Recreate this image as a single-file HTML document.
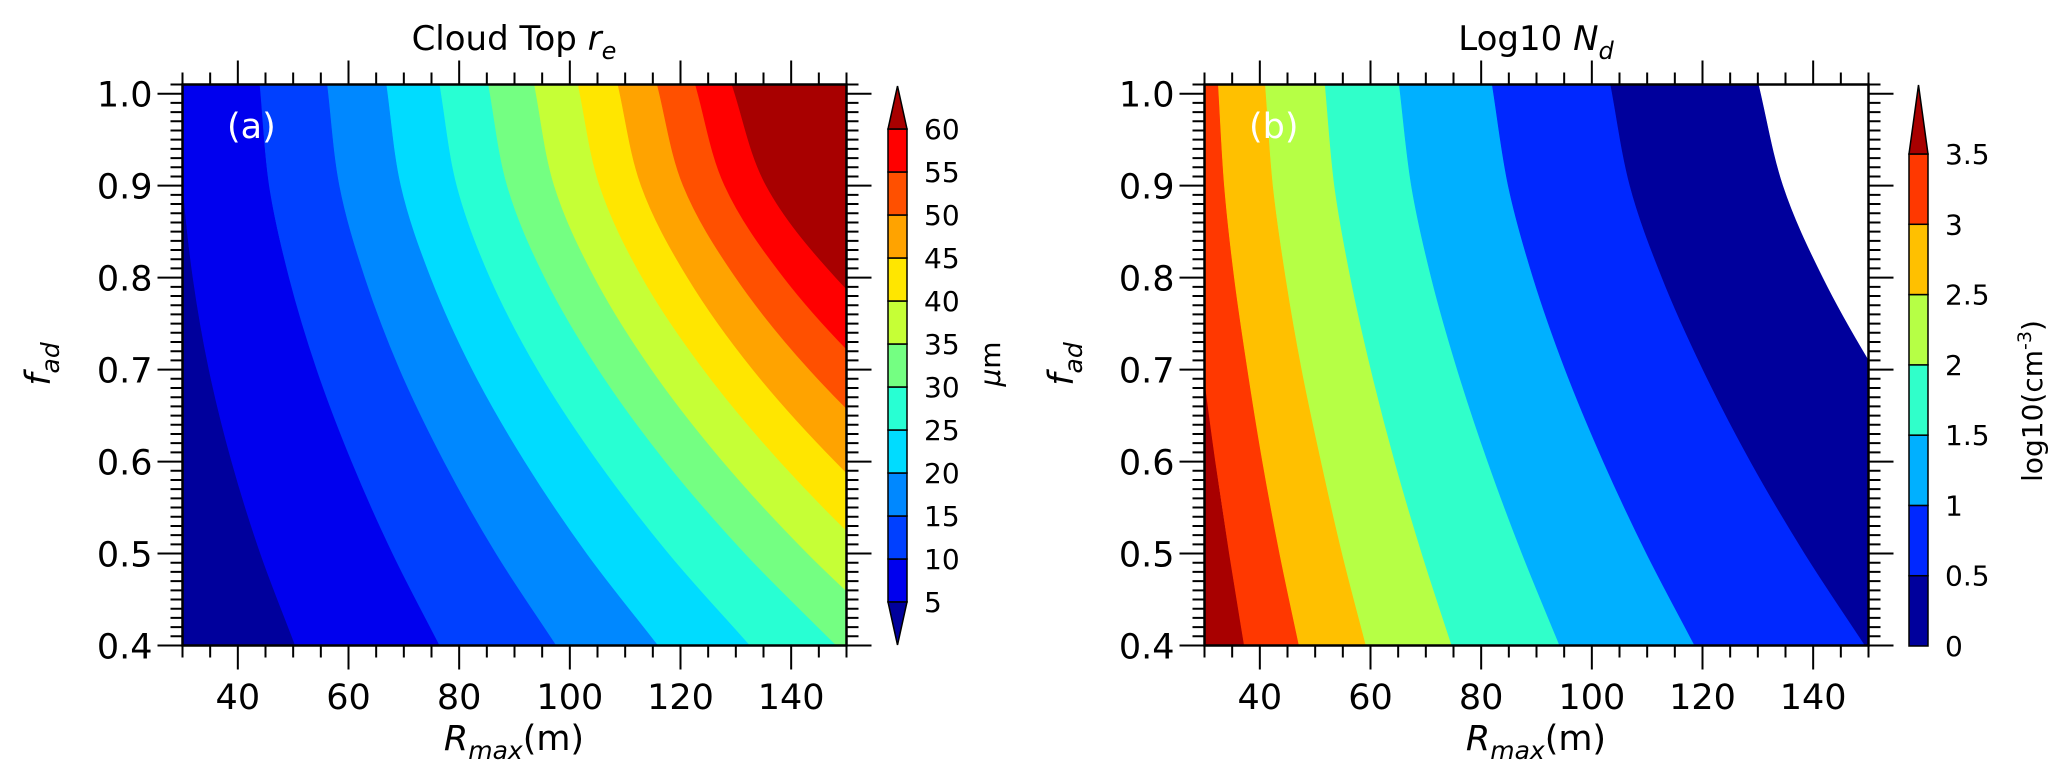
<!DOCTYPE html>
<html><head><meta charset="utf-8"><style>
html,body{margin:0;padding:0;background:#fff;}
svg{display:block;font-family:"DejaVu Sans","Liberation Sans",sans-serif;}
</style></head><body>
<svg id="fig" width="2067" height="777" viewBox="0 0 2067 777" xmlns="http://www.w3.org/2000/svg">
<defs>
<clipPath id="clipA"><rect x="182.5" y="84.5" width="664" height="561"/></clipPath>
<clipPath id="clipB"><rect x="1204.5" y="84.5" width="664" height="561"/></clipPath>
</defs>
<g id="panelA"></g>
<g id="panelB"></g>
<g id="cbarA"></g>
<g id="cbarB"></g>
<text x="514" y="50" font-size="34" text-anchor="middle">Cloud Top <tspan font-style="italic">r</tspan><tspan font-style="italic" font-size="24" dy="9">e</tspan></text>
<text x="1536" y="50" font-size="34" text-anchor="middle">Log10 <tspan font-style="italic">N</tspan><tspan font-style="italic" font-size="24" dy="9">d</tspan></text>
<text x="227" y="138" font-size="35" fill="#fff">(a)</text>
<text x="1249" y="138" font-size="35" fill="#fff">(b)</text>
<text x="514" y="750" font-size="35" text-anchor="middle"><tspan font-style="italic">R</tspan><tspan font-style="italic" font-size="25" dy="9">max</tspan><tspan dy="-9">(m)</tspan></text>
<text x="1536" y="750" font-size="35" text-anchor="middle"><tspan font-style="italic">R</tspan><tspan font-style="italic" font-size="25" dy="9">max</tspan><tspan dy="-9">(m)</tspan></text>
<text transform="translate(50,364) rotate(-90)" font-size="35" text-anchor="middle"><tspan font-style="italic">f</tspan><tspan font-style="italic" font-size="25" dy="9">ad</tspan></text>
<text transform="translate(1073,364) rotate(-90)" font-size="35" text-anchor="middle"><tspan font-style="italic">f</tspan><tspan font-style="italic" font-size="25" dy="9">ad</tspan></text>
<text transform="translate(1000,364) rotate(-90)" font-size="28" text-anchor="middle"><tspan font-style="italic">μ</tspan>m</text>
<text transform="translate(2042,401) rotate(-90)" font-size="28" text-anchor="middle">log10(cm<tspan font-size="19" dy="-11">-3</tspan><tspan dy="11">)</tspan></text>
</svg>
<script>
// ---- data: fad sample levels and contour boundary positions (R in m) ----
const fadLevels = [1.01, 0.9, 0.8, 0.7, 0.6, 0.5, 0.4];
const reLevels = [5,10,15,20,25,30,35,40,45,50,55,60];
const reB1 = [29.2,30.1,31.9,34.8,38.9,44.1,50.4];
const reB2 = [44.0,45.7,49.3,54.3,60.6,68.0,76.5];
const reB3 = [56.2,58.4,63.0,69.3,77.3,86.7,97.6];
const reB4 = [66.9,69.5,74.9,82.4,91.9,103.1,116.0];
const reB5 = [76.5,79.6,85.6,94.2,105.1,117.9,132.6];
const reB6 = [85.3,88.7,95.5,105.2,117.3,131.7,148.2];
const reB7 = [93.6,97.2,104.5,114.8,127.7,143.0,160.6];
const reB8 = [101.5,105.4,113.1,124.2,138.0,154.3,173.1];
const reB9 = [108.7,112.9,121.3,133.1,148.0,165.6,185.8];
const reB10 = [115.8,120.5,130.0,143.3,160.1,180.0,202.8];
const reB11 = [122.7,128.0,138.7,153.7,172.6,195.1,220.8];
const reB12 = [129.3,135.5,148.1,165.8,188.1,214.5,244.8];
const reColors = ['#00009c','#0000ee','#0040ff','#0088ff','#00dcff','#28ffd3','#74ff82','#c6ff36','#ffe600','#ffa300','#ff5000','#ff0000','#a80000'];

const ndLevels = [0,0.5,1,1.5,2,2.5,3,3.5];
const ndB1 = [25.6,26.5,28.0,29.8,32.0,34.5,37.2];
const ndB2 = [32.5,33.6,35.4,37.8,40.5,43.6,47.1];
const ndB3 = [41.0,42.4,44.7,47.6,51.1,54.9,59.2];
const ndB4 = [51.8,53.5,56.4,60.1,64.4,69.3,74.7];
const ndB5 = [65.2,67.4,71.0,75.7,81.2,87.4,94.2];
const ndB6 = [82.0,84.9,89.4,95.2,102.1,109.9,118.6];
const ndB7 = [103.4,106.9,112.7,120.1,128.7,138.5,149.4];
const ndB8 = [130.2,134.6,141.8,151.1,162.0,174.4,188.0];
const ndColors = ['#a80000','#ff3800','#ffc000','#b6ff45','#30ffca','#00b0ff','#0028ff','#00009c','#ffffff'];

const xTicks = [40,60,80,100,120,140];
const yTicks = [0.4,0.5,0.6,0.7,0.8,0.9,1.0];
const yTickLabels = ['0.4','0.5','0.6','0.7','0.8','0.9','1.0'];
const reTickLabels = ['5','10','15','20','25','30','35','40','45','50','55','60'];
const ndTickLabels = ['0','0.5','1','1.5','2','2.5','3','3.5'];

const NS = 'http://www.w3.org/2000/svg';
function mk(tag, attrs, parent){const e=document.createElementNS(NS,tag);for(const k in attrs)e.setAttribute(k,attrs[k]);parent.appendChild(e);return e;}

const PT = 84.5, PB = 645.5, PW = 664;
function yScale(f){return PB - (f-0.4)/(1.01-0.4)*(PB-PT);}
function makeX(left){return r => left + (r-30)/120*PW;}

function smoothPath(pts){
  let d='';
  for(let i=0;i<pts.length-1;i++){
    const p0=i>0?pts[i-1]:[2*pts[0][0]-pts[1][0],2*pts[0][1]-pts[1][1]];
    const p1=pts[i],p2=pts[i+1];
    const p3=i+2<pts.length?pts[i+2]:[2*p2[0]-p1[0],2*p2[1]-p1[1]];
    const c1=[p1[0]+(p2[0]-p0[0])/6,p1[1]+(p2[1]-p0[1])/6];
    const c2=[p2[0]-(p3[0]-p1[0])/6,p2[1]-(p3[1]-p1[1])/6];
    d+=` C${c1[0].toFixed(2)},${c1[1].toFixed(2)} ${c2[0].toFixed(2)},${c2[1].toFixed(2)} ${p2[0].toFixed(2)},${p2[1].toFixed(2)}`;
  }
  return d;
}

function drawPanel(gid, left, clip, bounds, colors, names){
  const g=document.getElementById(gid);
  const xs=makeX(left);
  const cg=mk('g',{'clip-path':'url(#'+clip+')'},g);
  
  
  for(let i=0;i<colors.length;i++){
    const lb = i===0 ? null : bounds[i-1];
    const rb = i===bounds.length ? null : bounds[i];
    let d='';
    if(lb){
      const pts=lb.map((r,k)=>[xs(r),yScale(fadLevels[k])]);
      d='M'+pts[0][0]+','+pts[0][1]+smoothPath(pts);
    } else {
      d=`M${left-50},${PT} L${left-50},${PB}`;
    }
    if(rb){
      const pts=rb.map((r,k)=>[xs(r),yScale(fadLevels[k])]).reverse();
      d+=' L'+pts[0][0]+','+pts[0][1]+smoothPath(pts);
    } else {
      d+=` L${left+PW+50},${PB} L${left+PW+50},${PT}`;
    }
    d+=' Z';
    const p=mk('path',{d:d,fill:colors[i],stroke:colors[i],'stroke-width':'0.6'},cg);
    
    
  }
  const fr=mk('rect',{x:left,y:PT,width:PW,height:PB-PT,fill:'none',stroke:'#000','stroke-width':'2.5'},g);
  
  
  let td='';
  for(let r=30;r<=150;r+=5){
    const x=xs(r), major=xTicks.includes(r), L=major?24:12;
    td+=`M${x},${PB} v${L} M${x},${PT} v${-L} `;
  }
  for(let k=0;k<=61;k++){
    const f=0.4+k*0.01, y=yScale(f), major=(k%10===0), L=major?25:12;
    td+=`M${left},${y} h${-L} M${left+PW},${y} h${L} `;
  }
  const tk=mk('path',{d:td,stroke:'#000','stroke-width':'2',fill:'none'},g);
  
  
  xTicks.forEach(v=>{
    const t=mk('text',{x:xs(v),y:709,'font-size':'35','text-anchor':'middle'},g);
    t.textContent=String(v);
    
    
  });
  yTicks.forEach((v,i)=>{
    const t=mk('text',{x:left-30,y:yScale(v)+13,'font-size':'35','text-anchor':'end'},g);
    t.textContent=yTickLabels[i];
    
    
  });
}

drawPanel('panelA',182.5,'clipA',[reB1,reB2,reB3,reB4,reB5,reB6,reB7,reB8,reB9,reB10,reB11,reB12],reColors,'re');
drawPanel('panelB',1204.5,'clipB',[ndB1,ndB2,ndB3,ndB4,ndB5,ndB6,ndB7,ndB8],ndColors,'nd');

function drawCbar(gid, x0, w, levels, labels, colors, yLo, yHi, extLow, extHigh, tipLow, tipHigh){
  const g=document.getElementById(gid);
  const n=levels.length-1;
  const cy=v=>yLo-(v-levels[0])/(levels[n]-levels[0])*(yLo-yHi);
  for(let i=0;i<n;i++){
    const r=mk('rect',{x:x0,y:cy(levels[i+1]),width:w,height:cy(levels[i])-cy(levels[i+1]),fill:colors[i],stroke:'#000','stroke-width':'1.5'},g);
    
    
  }
  if(extLow){
    const p=mk('path',{d:`M${x0},${yLo} L${x0+w/2},${tipLow} L${x0+w},${yLo} Z`,fill:extLow,stroke:'#000','stroke-width':'1.5'},g);
    
    
  }
  if(extHigh){
    const p=mk('path',{d:`M${x0},${yHi} L${x0+w/2},${tipHigh} L${x0+w},${yHi} Z`,fill:extHigh,stroke:'#000','stroke-width':'1.5'},g);
    
    
  }
  levels.forEach((v,i)=>{
    const t=mk('text',{x:x0+w+17,y:cy(v)+10,'font-size':'28'},g);
    t.textContent=labels[i];
    
    
  });
}
drawCbar('cbarA',888,19,reLevels,reTickLabels,reColors.slice(1,12),602,129,reColors[0],reColors[12],645,86);
drawCbar('cbarB',1909,19,ndLevels,ndTickLabels,ndColors.slice(1,8).reverse(),646,154,null,ndColors[0],null,85);
</script>
</body></html>
